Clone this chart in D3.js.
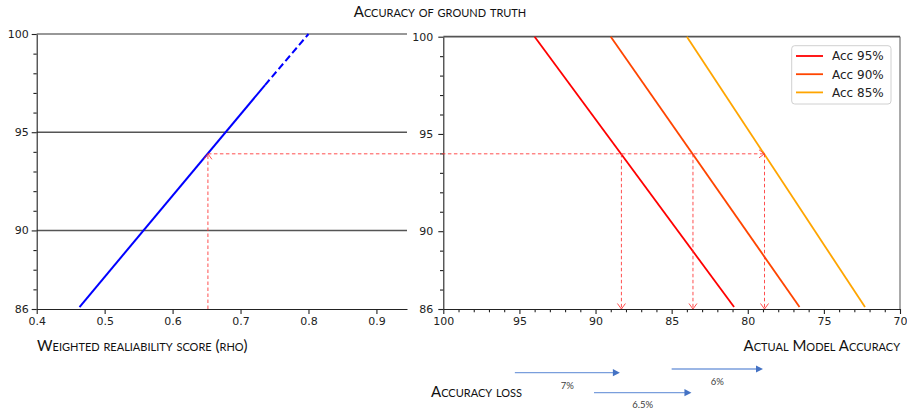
<!DOCTYPE html>
<html lang="en">
<head>
<meta charset="UTF-8">
<title>Accuracy of ground truth</title>
<script src="https://d3js.org/d3.v7.min.js"></script>
<style>
    body { margin: 0; background: #fff; }
    .tick text { font-family: "DejaVu Sans", sans-serif; font-size: 11px; fill: #222; }
    .tick line, .domain { stroke: #222; stroke-width: 1.1px; }
    .caps { font-family: Lato, "Open Sans", sans-serif; font-variant: small-caps; fill: #111; }
    .legend text { font-family: "DejaVu Sans", sans-serif; font-size: 12px; fill: #222; }
</style>
</head>
<body>
<svg width="907" height="412"></svg>
<script>
    // left panel: ground-truth accuracy vs weighted reliability score
    const gtAcc = [86.1, 97.4, 100];
    const rho = [0.463, 0.736, 0.800];

    // right panel: ground-truth accuracy vs actual model accuracy
    const seriesNames = ["Acc 95%", "Acc 90%", "Acc 85%"];
    const seriesColors = ["#ff0000", "#ff4500", "#ffa500"];
    const gtEnds = [100, 86.1];
    const modelAtTop = [94.0, 89.0, 84.0];
    const modelAtBottom = [80.9, 76.6, 72.3];

    // reading shown with red dashed arrows
    const readRho = 0.652;
    const readAcc = 93.9;
    const readModel = [88.3, 83.6, 78.9];

    // accuracy loss arrows below the right panel
    const lossFrom = [95.3, 90.1, 85.0];
    const lossTo = [88.4, 83.7, 79.0];
    const lossLabels = ["7%", "6.5%", "6%"];

    const svg = d3.select("svg");

    const xL = d3.scaleLinear().domain([0.4, 0.945]).range([36.7, 407]);
    const yL = d3.scaleLinear().domain([86, 100]).range([309, 34]);
    const xR = d3.scaleLinear().domain([100, 70]).range([443.3, 900]);
    const yR = d3.scaleLinear().domain([86, 100]).range([309, 36.7]);

    const yTicks = [86, 90, 95, 100];
    const yMinor = d3.range(87, 100).filter(v => !yTicks.includes(v));

    // ---- left panel
    const gl = svg.append("g");
    [100, 95, 90].forEach(v => {
        gl.append("line")
            .attr("x1", xL.range()[0]).attr("x2", xL.range()[1])
            .attr("y1", yL(v)).attr("y2", yL(v))
            .attr("stroke", v === 100 ? "#333" : "#555")
            .attr("stroke-width", v === 100 ? 1.2 : 1.6);
    });

    gl.append("g")
        .attr("transform", `translate(${xL.range()[0]},0)`)
        .call(d3.axisLeft(yL).tickValues(yMinor).tickSize(3.3).tickFormat("").tickSizeOuter(0))
        .call(g => g.select(".domain").remove());
    gl.append("g")
        .attr("transform", `translate(${xL.range()[0]},0)`)
        .call(d3.axisLeft(yL).tickValues(yTicks).tickSize(5).tickPadding(3).tickSizeOuter(0));
    gl.append("g")
        .attr("transform", `translate(0,${yL.range()[0]})`)
        .call(d3.axisBottom(xL).tickValues([0.4, 0.5, 0.6, 0.7, 0.8, 0.9]).tickFormat(d3.format(".1f")).tickSize(5).tickPadding(3).tickSizeOuter(0));

    const lineL = d3.line().x(d => xL(d[0])).y(d => yL(d[1]));
    const pts = rho.map((r, i) => [r, gtAcc[i]]);
    gl.append("path").datum(pts.slice(0, 2)).attr("d", lineL)
        .attr("fill", "none").attr("stroke", "#0000ff").attr("stroke-width", 2);
    gl.append("path").datum(pts.slice(1)).attr("d", lineL)
        .attr("fill", "none").attr("stroke", "#0000ff").attr("stroke-width", 2)
        .attr("stroke-dasharray", "7,3.5");

    // ---- right panel
    const gr = svg.append("g");
    gr.append("line")
        .attr("x1", xR.range()[0]).attr("x2", xR.range()[1])
        .attr("y1", yR(100)).attr("y2", yR(100))
        .attr("stroke", "#555").attr("stroke-width", 1.8);
    gr.append("line")
        .attr("x1", xR.range()[1]).attr("x2", xR.range()[1])
        .attr("y1", yR(100)).attr("y2", yR(86))
        .attr("stroke", "#555").attr("stroke-width", 1);

    gr.append("g")
        .attr("transform", `translate(${xR.range()[0]},0)`)
        .call(d3.axisLeft(yR).tickValues(yMinor).tickSize(3.3).tickFormat("").tickSizeOuter(0))
        .call(g => g.select(".domain").remove());
    gr.append("g")
        .attr("transform", `translate(${xR.range()[0]},0)`)
        .call(d3.axisLeft(yR).tickValues(yTicks).tickSize(5).tickPadding(5).tickSizeOuter(0));
    const xMinor = d3.range(71, 100).filter(v => v % 5 !== 0);
    gr.append("g")
        .attr("transform", `translate(0,${yR.range()[0]})`)
        .call(d3.axisBottom(xR).tickValues(xMinor).tickSize(3.3).tickFormat("").tickSizeOuter(0))
        .call(g => g.select(".domain").remove());
    gr.append("g")
        .attr("transform", `translate(0,${yR.range()[0]})`)
        .call(d3.axisBottom(xR).tickValues(d3.range(70, 101, 5)).tickSize(5).tickPadding(3).tickSizeOuter(0));

    const lineR = d3.line().x(d => xR(d[0])).y(d => yR(d[1]));
    seriesNames.forEach((name, i) => {
        gr.append("path")
            .datum([[modelAtTop[i], gtEnds[0]], [modelAtBottom[i], gtEnds[1]]])
            .attr("d", lineR)
            .attr("fill", "none").attr("stroke", seriesColors[i]).attr("stroke-width", 1.8);
    });

    // ---- red dashed reading arrows
    const ann = svg.append("g")
        .attr("fill", "none").attr("stroke", "#ff3030").attr("stroke-width", 1)
        .attr("stroke-opacity", 0.85);
    const yRead = yL(readAcc);
    const head = (x, y, dx, dy) => {
        // open chevron pointing in direction (dx, dy)
        const L = 5.5, W = 4;
        const px = -dy, py = dx;
        return `M${x - dx * L + px * W},${y - dy * L + py * W}L${x},${y}L${x - dx * L - px * W},${y - dy * L - py * W}`;
    };
    const dash = "3.5,2.5";
    ann.append("line")
        .attr("x1", xL(readRho)).attr("x2", xL(readRho))
        .attr("y1", yL(86)).attr("y2", yRead).attr("stroke-dasharray", dash);
    ann.append("path").attr("d", head(xL(readRho), yRead, 0, -1));
    const xEnd = xR(readModel[readModel.length - 1]);
    ann.append("line")
        .attr("x1", xL(readRho)).attr("x2", xEnd)
        .attr("y1", yRead).attr("y2", yRead).attr("stroke-dasharray", dash);
    ann.append("path").attr("d", head(xEnd, yRead, 1, 0));
    readModel.forEach(m => {
        ann.append("line")
            .attr("x1", xR(m)).attr("x2", xR(m))
            .attr("y1", yRead).attr("y2", yR(86)).attr("stroke-dasharray", dash);
        ann.append("path").attr("d", head(xR(m), yR(86), 0, 1));
    });

    // ---- legend
    const lg = svg.append("g").attr("class", "legend");
    lg.append("rect")
        .attr("x", 791.7).attr("y", 45.7).attr("width", 99.3).attr("height", 58.3)
        .attr("rx", 3).attr("fill", "#fff").attr("fill-opacity", 0.8)
        .attr("stroke", "#d0d0d0");
    seriesNames.forEach((name, i) => {
        const y = 56 + i * 18.2;
        lg.append("line").attr("x1", 796).attr("x2", 823).attr("y1", y).attr("y2", y)
            .attr("stroke", seriesColors[i]).attr("stroke-width", 1.8);
        lg.append("text").attr("x", 832).attr("y", y + 4.3).text(name);
    });

    // ---- titles
    svg.append("text").attr("class", "caps").attr("x", 440).attr("y", 16.7)
        .attr("text-anchor", "middle").attr("font-size", 15).text("Accuracy of ground truth");
    svg.append("text").attr("class", "caps").attr("x", 37).attr("y", 351)
        .attr("font-size", 15).text("Weighted realiability score (rho)");
    svg.append("text").attr("class", "caps").attr("x", 900).attr("y", 350.5)
        .attr("text-anchor", "end").attr("font-size", 15).text("Actual Model Accuracy");
    svg.append("text").attr("class", "caps").attr("x", 431).attr("y", 396.7)
        .attr("font-size", 15).text("Accuracy loss");

    // ---- accuracy loss arrows
    const arrowY = [372.7, 392.7, 369];
    const labelY = [389, 408, 385];
    const la = svg.append("g");
    lossLabels.forEach((lab, i) => {
        const x0 = xR(lossFrom[i]), x1 = xR(lossTo[i]), y = arrowY[i];
        la.append("line").attr("x1", x0).attr("x2", x1 - 6).attr("y1", y).attr("y2", y)
            .attr("stroke", "#7a9edc").attr("stroke-width", 1.3);
        la.append("path").attr("d", `M${x1},${y}L${x1 - 7},${y - 3.6}L${x1 - 7},${y + 3.6}Z`)
            .attr("fill", "#4472c4");
        la.append("text").attr("x", (x0 + x1) / 2).attr("y", labelY[i])
            .attr("text-anchor", "middle")
            .attr("font-family", "Lato, sans-serif").attr("font-size", 9.5)
            .attr("fill", "#404040").text(lab);
    });
</script>
</body>
</html>
